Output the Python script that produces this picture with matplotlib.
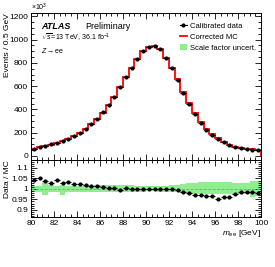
import numpy as np
import matplotlib
matplotlib.use("Agg")
import matplotlib.pyplot as plt
from matplotlib.ticker import MultipleLocator
from matplotlib.lines import Line2D
from matplotlib.patches import Patch

plt.rcParams['font.family'] = ['Liberation Sans', 'DejaVu Sans']
plt.rcParams['mathtext.fontset'] = 'custom'
plt.rcParams['mathtext.rm'] = 'Liberation Sans'
plt.rcParams['mathtext.it'] = 'Liberation Sans:italic'

# m_ee bin edges, 0.5 GeV bins
edges = np.arange(80.0, 100.01, 0.5)
centers = 0.5 * (edges[:-1] + edges[1:])

# calibrated data, events x 10^3
data = [63, 77, 86, 100, 115, 129, 149, 175, 200, 232,
        275, 321, 375, 438, 510, 590, 678, 758, 836, 898,
        935, 944, 921, 844, 760, 656, 544, 450, 358, 283,
        226, 180, 146, 118, 94, 77, 69, 57, 55, 49]

# data / MC ratio
ratio = [1.044, 1.052, 1.037, 1.030, 1.041, 1.029, 1.033, 1.024, 1.025, 1.020,
         1.016, 1.012, 1.009, 1.005, 1.003, 0.995, 1.003, 1.000, 1.000, 1.000,
         1.000, 1.000, 1.000, 1.001, 1.001, 0.994, 0.986, 0.981, 0.973, 0.970,
         0.965, 0.965, 0.954, 0.962, 0.960, 0.976, 0.986, 0.985, 0.985, 0.981]

# scale factor uncertainty band (relative)
band_up = [1.014, 1.016, 1.026, 1.018, 1.016, 1.017, 1.016, 1.015, 1.015, 1.016,
           1.016, 1.017, 1.018, 1.019, 1.019, 1.019, 1.018, 1.017, 1.016, 1.014,
           1.013, 1.013, 1.014, 1.016, 1.018, 1.021, 1.024, 1.027, 1.030, 1.032,
           1.033, 1.033, 1.032, 1.031, 1.032, 1.030, 1.029, 1.030, 1.040, 1.038]
band_dn = [0.987, 0.985, 0.972, 0.984, 0.985, 0.969, 0.984, 0.985, 0.986, 0.987,
           0.987, 0.986, 0.985, 0.984, 0.984, 0.983, 0.984, 0.985, 0.986, 0.987,
           0.988, 0.988, 0.987, 0.986, 0.985, 0.983, 0.981, 0.979, 0.977, 0.976,
           0.975, 0.975, 0.975, 0.976, 0.976, 0.977, 0.977, 0.975, 0.962, 0.967]

data = np.array(data, dtype=float)
ratio = np.array(ratio)
mc = data / ratio
data_err = np.sqrt(data * 1000.0) / 1000.0
ratio_err = ratio * data_err / data + 0.002

fig = plt.figure(figsize=(2.75, 2.67), dpi=100)
ax = fig.add_axes([0.1127, 0.4007, 0.8364, 0.5503])
rax = fig.add_axes([0.1127, 0.1873, 0.8364, 0.2134], sharex=ax)

fs = 6

# main panel
ax.stairs(mc, edges, color='red', lw=1.3)
ax.errorbar(centers, data, xerr=0.25, yerr=data_err, fmt='o', color='black',
            ms=2.0, lw=0.8, capsize=0)
ax.set_xlim(80, 100)
ax.set_ylim(-35, 1228)
ax.set_ylabel('Events / 0.5 GeV', fontsize=fs, loc='top')
ax.yaxis.set_label_coords(-0.088, 1.0)
ax.text(0.0, 1.0, r'$\times10^{3}$', transform=ax.transAxes, fontsize=5,
        va='bottom', ha='left')

ax.text(0.045, 0.895, 'ATLAS', transform=ax.transAxes, fontsize=6.5,
        fontweight='bold', style='italic')
ax.text(0.235, 0.895, 'Preliminary', transform=ax.transAxes, fontsize=6.5)
ax.text(0.045, 0.815, r'$\sqrt{s}$=13 TeV, 36.1 fb$^{-1}$',
        transform=ax.transAxes, fontsize=5)
ax.text(0.045, 0.73, r'$Z$$\rightarrow$ee', transform=ax.transAxes, fontsize=5)

handles = [Line2D([0], [0], color='black', marker='o', ms=2.0, lw=0.8),
           Line2D([0], [0], color='red', lw=1.3),
           Patch(facecolor='#90ee90', edgecolor='none')]
labels = ['Calibrated data', 'Corrected MC', 'Scale factor uncert.']
ax.legend(handles, labels, loc='upper right', bbox_to_anchor=(1.0, 0.965),
          frameon=False, fontsize=5.5, handlelength=1.0, handletextpad=0.4,
          labelspacing=0.45, borderaxespad=0.2)

# ratio panel
rax.fill_between(edges, np.append(band_dn, band_dn[-1]),
                 np.append(band_up, band_up[-1]), step='post',
                 color='#90ee90', lw=0)
rax.axhline(1.0, color='#5cbf5c', lw=0.6, ls='--')
rax.errorbar(centers, ratio, xerr=0.25, yerr=ratio_err, fmt='o',
             color='black', ms=2.0, lw=0.8, capsize=0)
rax.set_ylim(0.866, 1.138)
rax.set_ylabel('Data / MC', fontsize=fs, loc='top')
rax.yaxis.set_label_coords(-0.088, 1.0)
rax.set_xlabel(r'$m_{\rm ee}$ [GeV]', fontsize=fs, loc='right', labelpad=1)
rax.set_yticks([0.9, 0.95, 1.0, 1.05, 1.1])
rax.set_yticklabels(['0.9', '0.95', '1', '1.05', '1.1'])

for a in (ax, rax):
    a.xaxis.set_major_locator(MultipleLocator(2))
    a.xaxis.set_minor_locator(MultipleLocator(0.5))
    a.tick_params(which='both', direction='in', top=True, right=True,
                  labelsize=fs, width=0.6, pad=2)
    a.tick_params(which='major', length=4)
    a.tick_params(which='minor', length=2)
    for s in a.spines.values():
        s.set_linewidth(0.7)

ax.yaxis.set_major_locator(MultipleLocator(200))
ax.yaxis.set_minor_locator(MultipleLocator(50))
rax.yaxis.set_minor_locator(MultipleLocator(0.01))
ax.tick_params(labelbottom=False)

fig.savefig('out.png', dpi=100)
